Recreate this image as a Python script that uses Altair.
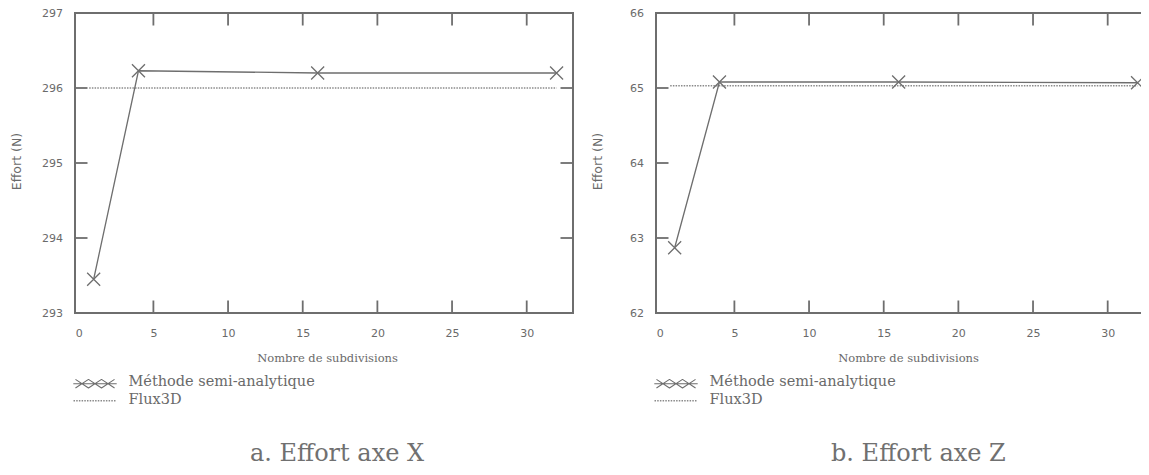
import altair as alt
import pandas as pd

# ---- data ----
subdivisions = [1, 4, 16, 32]
effort_axe_x = [293.45, 296.23, 296.20, 296.20]
effort_axe_z = [62.87, 65.08, 65.08, 65.07]
flux3d_x_pos = [0.7, 32]
flux3d_axe_x = [296.0, 296.0]
flux3d_axe_z = [65.03, 65.03]

x_tick_labels = [0, 5, 10, 15, 20, 25, 30]
x_inner_ticks = [5, 10, 15, 20, 25, 30]
y_ticks_x = [293, 294, 295, 296, 297]
y_inner_x = [294, 295, 296]
y_ticks_z = [62, 63, 64, 65, 66]
y_inner_z = [63, 64, 65]

series_labels = ["Méthode semi-analytique", "Flux3D"]
captions = ["a. Effort axe X", "b. Effort axe Z"]
x_title = "Nombre de subdivisions"
y_title = "Effort (N)"

X_DOMAIN_A = [-0.25, 33.1]
X_DOMAIN_B = [-0.25, 32.7]   # panel b is cut by the page edge, as in the reference
W_A, W_B, H = 498, 492, 300
INK = "#6e6e6e"
TXT = "#6a6a6a"
SANS = "DejaVu Sans"
SERIF = "DejaVu Serif"
TICK = 12.5

X_PATH = "M-1,-1L1,1M-1,1L1,-1"
LEG_PATH = ("M-1,0L1,0"
            "M-0.9,-0.2L-0.3,0.2M-0.9,0.2L-0.3,-0.2"
            "M-0.3,-0.2L0.3,0.2M-0.3,0.2L0.3,-0.2"
            "M0.3,-0.2L0.9,0.2M0.3,0.2L0.9,-0.2")


def panel(values, flux, yticks, yinner, caption, x_domain, W, right_border, right_tick):
    xs = alt.Scale(domain=x_domain, nice=False, zero=False)
    ys = alt.Scale(domain=[yticks[0], yticks[-1]], nice=False, zero=False)
    x_enc = alt.X("x:Q", scale=xs, axis=alt.Axis(
        values=x_tick_labels, ticks=False, domain=False, grid=False, format="d",
        labelPadding=14, labelFont=SANS, labelFontSize=11, labelColor=TXT,
        title=x_title, titleFont=SERIF, titleFontSize=11.5, titleFontWeight="normal",
        titleColor=TXT, titleY=48, titleX=252, titleBaseline="alphabetic"))
    y_enc = alt.Y("y:Q", scale=ys, axis=alt.Axis(
        values=yticks, ticks=False, domain=False, grid=False, format="d",
        labelPadding=12.5, labelFont=SANS, labelFontSize=11, labelColor=TXT,
        title=y_title, titleFont=SANS, titleFontSize=12.5, titleFontWeight="normal",
        titleColor=TXT, titleX=-52, titleY=148, titleBaseline="bottom", titleAngle=-90))

    df = pd.DataFrame({"x": subdivisions, "y": values})
    fdf = pd.DataFrame({"x": flux3d_x_pos, "y": flux})
    xt = pd.DataFrame({"x": x_inner_ticks})
    yt = pd.DataFrame({"y": yinner})
    one = pd.DataFrame({"k": [0]})

    flux_line = alt.Chart(fdf).mark_line(color="#8a8a8a", strokeWidth=1.6, strokeDash=[1.5, 1.2]).encode(x=x_enc, y=y_enc)
    line = alt.Chart(df).mark_line(color=INK, strokeWidth=1.3).encode(x="x:Q", y="y:Q")
    pts = alt.Chart(df).mark_point(shape=X_PATH, size=169, filled=False, color=INK, strokeWidth=1.3, opacity=1).encode(x="x:Q", y="y:Q")

    bt = alt.Chart(xt).mark_rule(color=INK, strokeWidth=1.8).encode(x="x:Q", y=alt.value(H - TICK), y2=alt.value(H))
    tt = alt.Chart(xt).mark_rule(color=INK, strokeWidth=1.8).encode(x="x:Q", y=alt.value(0), y2=alt.value(TICK))
    lt = alt.Chart(yt).mark_rule(color=INK, strokeWidth=1.8).encode(y="y:Q", x=alt.value(0), x2=alt.value(TICK))
    rt = alt.Chart(yt).mark_rule(color=INK, strokeWidth=1.8).encode(y="y:Q", x=alt.value(W - right_tick), x2=alt.value(W))

    # frame
    f_top = alt.Chart(one).mark_rule(color=INK, strokeWidth=2).encode(x=alt.value(-1), x2=alt.value(W + 1), y=alt.value(0))
    f_bot = alt.Chart(one).mark_rule(color=INK, strokeWidth=2).encode(x=alt.value(-1), x2=alt.value(W + 1), y=alt.value(H))
    f_left = alt.Chart(one).mark_rule(color=INK, strokeWidth=2).encode(x=alt.value(0), y=alt.value(0), y2=alt.value(H))
    layers = [flux_line, line, pts, bt, tt, lt, rt, f_top, f_bot, f_left]
    if right_border:
        layers.append(alt.Chart(one).mark_rule(color=INK, strokeWidth=2).encode(x=alt.value(W), y=alt.value(0), y2=alt.value(H)))

    leg_df = pd.DataFrame({"t": [series_labels[0]]})
    leg_sym = alt.Chart(leg_df).mark_point(shape=LEG_PATH, size=1884, filled=False, color=INK, strokeWidth=1.1, opacity=1).encode(
        x=alt.value(20), y=alt.value(370.7))
    leg_t1 = alt.Chart(leg_df).mark_text(align="left", baseline="alphabetic", font=SERIF, fontSize=14.5, color=TXT).encode(
        x=alt.value(53.5), y=alt.value(373.4), text="t:N")
    leg_df2 = pd.DataFrame({"t": [series_labels[1]]})
    leg_dash = alt.Chart(leg_df2).mark_rule(color="#8a8a8a", strokeWidth=1.4, strokeDash=[1.5, 1.2]).encode(
        x=alt.value(-1.5), x2=alt.value(41.7), y=alt.value(387.7))
    leg_t2 = alt.Chart(leg_df2).mark_text(align="left", baseline="alphabetic", font=SERIF, fontSize=14.5, color=TXT).encode(
        x=alt.value(53.5), y=alt.value(391), text="t:N")

    cap = alt.Chart(pd.DataFrame({"t": [caption]})).mark_text(
        align="left", baseline="alphabetic", font=SERIF, fontSize=24, color="#707070").encode(
        x=alt.value(175), y=alt.value(447.5), text="t:N")

    layers += [leg_sym, leg_t1, leg_dash, leg_t2, cap]
    return alt.layer(*layers).properties(width=W, height=H)


a = panel(effort_axe_x, flux3d_axe_x, y_ticks_x, y_inner_x, captions[0], X_DOMAIN_A, W_A, True, TICK)
b = panel(effort_axe_z, flux3d_axe_z, y_ticks_z, y_inner_z, captions[1], X_DOMAIN_B, W_B, False, 7)

chart = alt.hconcat(a, b, spacing=83, bounds="flush").properties(
    autosize=alt.AutoSizeParams(type="none"),
    padding={"left": 67, "top": 5, "right": 1066, "bottom": 449},
    background="white",
).configure_view(stroke=None, strokeWidth=0)

chart.save("out.html", embed_options={"renderer": "svg", "actions": False})
